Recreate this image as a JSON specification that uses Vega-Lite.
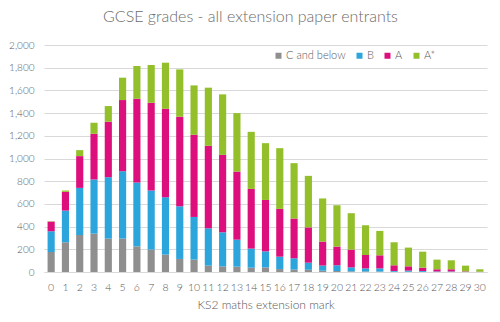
{
  "$schema": "https://vega.github.io/schema/vega-lite/v6.json",
  "autosize": "none",
  "width": 443,
  "height": 227,
  "padding": {"left": 44, "top": 45, "right": 13, "bottom": 50},
  "background": "white",
  "title": {
    "text": "GCSE grades - all extension paper entrants",
    "font": "Lato",
    "fontSize": 16,
    "fontWeight": 300,
    "color": "#6b6b6b",
    "anchor": "middle",
    "dx": -15,
    "offset": 15
  },
  "data": {
    "values": [
      {"m":0,"g":"C and below","k":1,"n":176},{"m":0,"g":"B","k":2,"n":183},{"m":0,"g":"A","k":3,"n":85},{"m":0,"g":"A*","k":4,"n":3},
      {"m":1,"g":"C and below","k":1,"n":262},{"m":1,"g":"B","k":2,"n":279},{"m":1,"g":"A","k":3,"n":165},{"m":1,"g":"A*","k":4,"n":12},
      {"m":2,"g":"C and below","k":1,"n":326},{"m":2,"g":"B","k":2,"n":415},{"m":2,"g":"A","k":3,"n":280},{"m":2,"g":"A*","k":4,"n":53},
      {"m":3,"g":"C and below","k":1,"n":338},{"m":3,"g":"B","k":2,"n":477},{"m":3,"g":"A","k":3,"n":403},{"m":3,"g":"A*","k":4,"n":97},
      {"m":4,"g":"C and below","k":1,"n":294},{"m":4,"g":"B","k":2,"n":541},{"m":4,"g":"A","k":3,"n":489},{"m":4,"g":"A*","k":4,"n":138},
      {"m":5,"g":"C and below","k":1,"n":294},{"m":5,"g":"B","k":2,"n":594},{"m":5,"g":"A","k":3,"n":627},{"m":5,"g":"A*","k":4,"n":197},
      {"m":6,"g":"C and below","k":1,"n":226},{"m":6,"g":"B","k":2,"n":562},{"m":6,"g":"A","k":3,"n":738},{"m":6,"g":"A*","k":4,"n":289},
      {"m":7,"g":"C and below","k":1,"n":197},{"m":7,"g":"B","k":2,"n":521},{"m":7,"g":"A","k":3,"n":773},{"m":7,"g":"A*","k":4,"n":333},
      {"m":8,"g":"C and below","k":1,"n":153},{"m":8,"g":"B","k":2,"n":506},{"m":8,"g":"A","k":3,"n":779},{"m":8,"g":"A*","k":4,"n":406},
      {"m":9,"g":"C and below","k":1,"n":115},{"m":9,"g":"B","k":2,"n":464},{"m":9,"g":"A","k":3,"n":789},{"m":9,"g":"A*","k":4,"n":417},
      {"m":10,"g":"C and below","k":1,"n":109},{"m":10,"g":"B","k":2,"n":376},{"m":10,"g":"A","k":3,"n":724},{"m":10,"g":"A*","k":4,"n":435},
      {"m":11,"g":"C and below","k":1,"n":56},{"m":11,"g":"B","k":2,"n":329},{"m":11,"g":"A","k":3,"n":727},{"m":11,"g":"A*","k":4,"n":512},
      {"m":12,"g":"C and below","k":1,"n":50},{"m":12,"g":"B","k":2,"n":300},{"m":12,"g":"A","k":3,"n":682},{"m":12,"g":"A*","k":4,"n":533},
      {"m":13,"g":"C and below","k":1,"n":47},{"m":13,"g":"B","k":2,"n":238},{"m":13,"g":"A","k":3,"n":600},{"m":13,"g":"A*","k":4,"n":515},
      {"m":14,"g":"C and below","k":1,"n":38},{"m":14,"g":"B","k":2,"n":168},{"m":14,"g":"A","k":3,"n":526},{"m":14,"g":"A*","k":4,"n":503},
      {"m":15,"g":"C and below","k":1,"n":41},{"m":15,"g":"B","k":2,"n":141},{"m":15,"g":"A","k":3,"n":453},{"m":15,"g":"A*","k":4,"n":500},
      {"m":16,"g":"C and below","k":1,"n":26},{"m":16,"g":"B","k":2,"n":109},{"m":16,"g":"A","k":3,"n":421},{"m":16,"g":"A*","k":4,"n":535},
      {"m":17,"g":"C and below","k":1,"n":21},{"m":17,"g":"B","k":2,"n":100},{"m":17,"g":"A","k":3,"n":350},{"m":17,"g":"A*","k":4,"n":488},
      {"m":18,"g":"C and below","k":1,"n":20},{"m":18,"g":"B","k":2,"n":62},{"m":18,"g":"A","k":3,"n":311},{"m":18,"g":"A*","k":4,"n":454},
      {"m":19,"g":"C and below","k":1,"n":11},{"m":19,"g":"B","k":2,"n":46},{"m":19,"g":"A","k":3,"n":211},{"m":19,"g":"A*","k":4,"n":380},
      {"m":20,"g":"C and below","k":1,"n":9},{"m":20,"g":"B","k":2,"n":50},{"m":20,"g":"A","k":3,"n":165},{"m":20,"g":"A*","k":4,"n":364},
      {"m":21,"g":"C and below","k":1,"n":6},{"m":21,"g":"B","k":2,"n":35},{"m":21,"g":"A","k":3,"n":156},{"m":21,"g":"A*","k":4,"n":321},
      {"m":22,"g":"C and below","k":1,"n":5},{"m":22,"g":"B","k":2,"n":27},{"m":22,"g":"A","k":3,"n":118},{"m":22,"g":"A*","k":4,"n":262},
      {"m":23,"g":"C and below","k":1,"n":4},{"m":23,"g":"B","k":2,"n":28},{"m":23,"g":"A","k":3,"n":115},{"m":23,"g":"A*","k":4,"n":215},
      {"m":24,"g":"C and below","k":1,"n":2},{"m":24,"g":"B","k":2,"n":7},{"m":24,"g":"A","k":3,"n":50},{"m":24,"g":"A*","k":4,"n":203},
      {"m":25,"g":"C and below","k":1,"n":2},{"m":25,"g":"B","k":2,"n":10},{"m":25,"g":"A","k":3,"n":38},{"m":25,"g":"A*","k":4,"n":165},
      {"m":26,"g":"C and below","k":1,"n":1},{"m":26,"g":"B","k":2,"n":8},{"m":26,"g":"A","k":3,"n":29},{"m":26,"g":"A*","k":4,"n":141},
      {"m":27,"g":"C and below","k":1,"n":1},{"m":27,"g":"B","k":2,"n":4},{"m":27,"g":"A","k":3,"n":19},{"m":27,"g":"A*","k":4,"n":85},
      {"m":28,"g":"C and below","k":1,"n":1},{"m":28,"g":"B","k":2,"n":4},{"m":28,"g":"A","k":3,"n":19},{"m":28,"g":"A*","k":4,"n":79},
      {"m":29,"g":"C and below","k":1,"n":0},{"m":29,"g":"B","k":2,"n":2},{"m":29,"g":"A","k":3,"n":4},{"m":29,"g":"A*","k":4,"n":50},
      {"m":30,"g":"C and below","k":1,"n":0},{"m":30,"g":"B","k":2,"n":1},{"m":30,"g":"A","k":3,"n":2},{"m":30,"g":"A*","k":4,"n":21}
    ]
  },
  "mark": {"type": "bar"},
  "encoding": {
    "x": {
      "field": "m",
      "type": "ordinal",
      "scale": {"paddingInner": 0.5, "paddingOuter": 0.25},
      "axis": {
        "title": "KS2 maths extension mark",
        "labelAngle": 0,
        "labelFont": "Lato",
        "labelFontSize": 10.5,
        "labelFontWeight": 300,
        "labelColor": "#595959",
        "labelPadding": 10,
        "titleFont": "Lato",
        "titleFontSize": 12,
        "titleFontWeight": 300,
        "titleColor": "#595959",
        "titlePadding": 7,
        "ticks": false,
        "domainColor": "#d9d9d9"
      }
    },
    "y": {
      "field": "n",
      "type": "quantitative",
      "stack": "zero",
      "scale": {"domain": [0, 2000], "nice": false},
      "axis": {
        "title": null,
        "values": [0,200,400,600,800,1000,1200,1400,1600,1800,2000],
        "format": ",.0f",
        "labelFont": "Lato",
        "labelFontSize": 10,
        "labelFontWeight": 300,
        "labelColor": "#595959",
        "labelPadding": 10,
        "ticks": false,
        "domain": false,
        "gridColor": "#d9d9d9"
      }
    },
    "color": {
      "field": "g",
      "type": "nominal",
      "scale": {
        "domain": ["C and below", "B", "A", "A*"],
        "range": ["#8f8f8f", "#2ca5dc", "#dc0f7c", "#92bf2a"]
      },
      "legend": {
        "title": null,
        "orient": "none",
        "legendX": 229,
        "legendY": 5,
        "direction": "horizontal",
        "symbolType": "square",
        "symbolSize": 36,
        "symbolStrokeWidth": 0,
        "labelFont": "Lato",
        "labelFontSize": 11,
        "labelFontWeight": 300,
        "labelColor": "#595959",
        "labelOffset": 2,
        "columnPadding": 8
      }
    },
    "order": {"field": "k", "type": "quantitative", "sort": "ascending"}
  },
  "config": {"view": {"stroke": null}}
}
